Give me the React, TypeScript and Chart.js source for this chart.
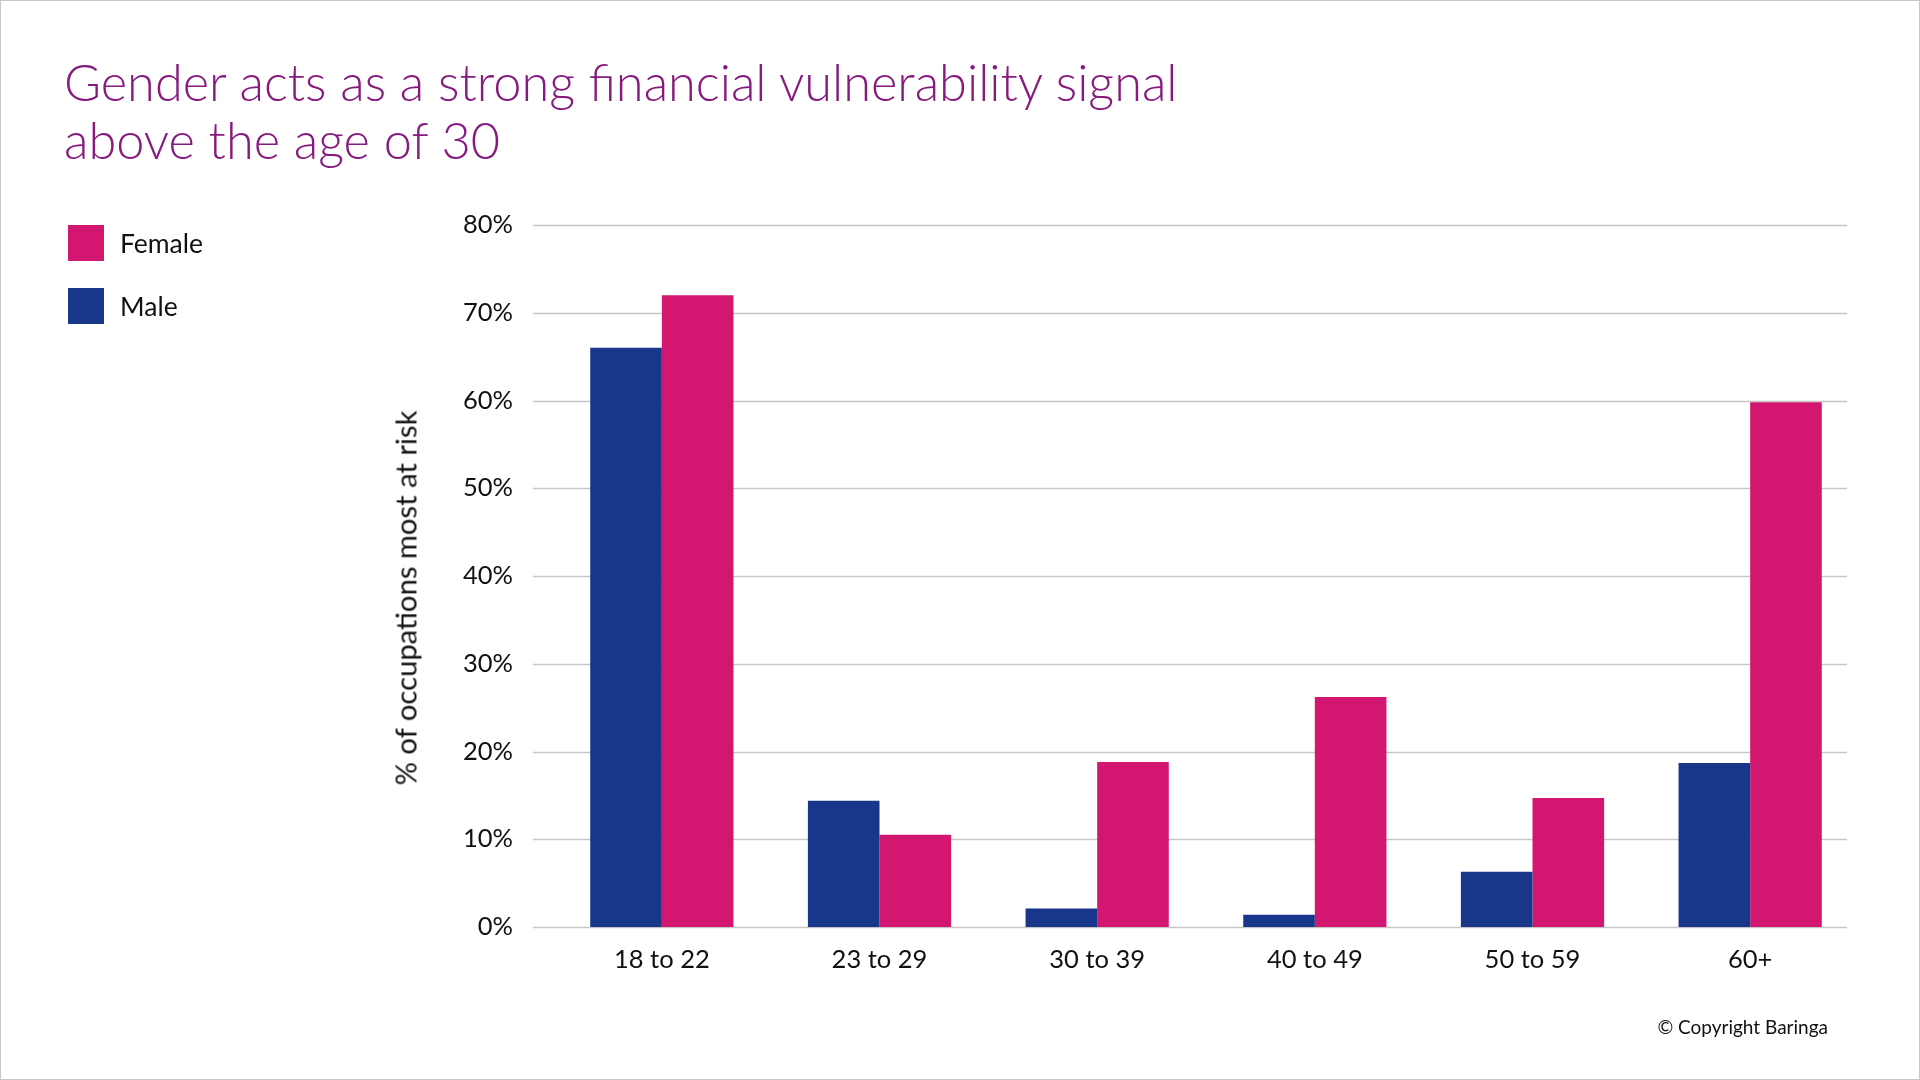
import React, { useEffect, useRef } from "react";
import { Chart, registerables } from "chart.js";

Chart.register(...registerables);

const categories = ["18 to 22", "23 to 29", "30 to 39", "40 to 49", "50 to 59", "60+"];
const maleValues = [66.0, 14.4, 2.1, 1.4, 6.3, 18.7];
const femaleValues = [72.0, 10.5, 18.8, 26.2, 14.7, 59.8];
const yTicks = [0, 10, 20, 30, 40, 50, 60, 70, 80];

const TITLE_LINES = ["Gender acts as a strong financial vulnerability signal", "above the age of 30"];
const Y_TITLE = "% of occupations most at risk";
const FEMALE_COLOR = "#D31670";
const MALE_COLOR = "#19378A";
const TITLE_COLOR = "#861A7E";
const GRID_COLOR = "#C6C6C6";
const FONT = "Lato, 'Open Sans', sans-serif";

// gridlines span a slightly different horizontal range than the category band
const GRID_LEFT = 533;
const GRID_RIGHT = 1847;

const gridPlugin = {
  id: "customGrid",
  beforeDatasetsDraw(chart: any) {
    const y = chart.scales.y;
    const ctx = chart.ctx;
    ctx.save();
    ctx.strokeStyle = GRID_COLOR;
    ctx.lineWidth = 1.3;
    y.ticks.forEach((t: any) => {
      const py = Math.round(y.getPixelForValue(t.value)) + 0.5;
      ctx.beginPath();
      ctx.moveTo(GRID_LEFT, py);
      ctx.lineTo(GRID_RIGHT, py);
      ctx.stroke();
    });
    ctx.restore();
  },
};

export default function App() {
  const canvasRef = useRef<HTMLCanvasElement | null>(null);

  useEffect(() => {
    if (!canvasRef.current) return;
    const chart = new Chart(canvasRef.current, {
      type: "bar",
      data: {
        labels: categories,
        datasets: [
          {
            label: "Male",
            data: maleValues,
            backgroundColor: MALE_COLOR,
            borderWidth: 0,
            categoryPercentage: 0.658,
            barPercentage: 1.0,
          },
          {
            label: "Female",
            data: femaleValues,
            backgroundColor: FEMALE_COLOR,
            borderWidth: 0,
            categoryPercentage: 0.658,
            barPercentage: 1.0,
          },
        ],
      },
      plugins: [gridPlugin],
      options: {
        responsive: false,
        animation: false,
        devicePixelRatio: 1,
        layout: { padding: { left: 400, right: 61, top: 225, bottom: 93 } },
        plugins: {
          legend: { display: false },
          title: { display: false },
          tooltip: { enabled: false },
        },
        scales: {
          x: {
            grid: { display: false },
            border: { display: false },
            ticks: {
              color: "#111111",
              font: { family: FONT, size: 25.5 },
              padding: 9,
            },
            afterFit: (scale: any) => {
              scale.height = 60;
            },
          },
          y: {
            min: 0,
            max: 80,
            afterBuildTicks: (scale: any) => {
              scale.ticks = yTicks.map((v) => ({ value: v }));
            },
            grid: { display: false },
            border: { display: false },
            ticks: {
              color: "#111111",
              font: { family: FONT, size: 25.5 },
              padding: 32,
              callback: (v: any) => `${v}%`,
            },
            afterFit: (scale: any) => {
              scale.width = 153;
            },
          },
        },
      },
    });
    return () => chart.destroy();
  }, []);

  return (
    <div
      style={{
        position: "absolute",
        left: 0,
        top: 0,
        width: 1920,
        height: 1080,
        boxSizing: "border-box",
        border: "1px solid #c8c8c8",
        background: "#ffffff",
        overflow: "hidden",
        fontFamily: FONT,
      }}
    >
      <canvas
        ref={canvasRef}
        width={1920}
        height={1080}
        style={{ position: "absolute", left: -1, top: -1, width: 1920, height: 1080 }}
      />
      <div
        style={{
          position: "absolute",
          left: 63,
          top: 52,
          color: TITLE_COLOR,
          fontSize: 50.5,
          fontWeight: 300,
          lineHeight: "58px",
          whiteSpace: "nowrap",
        }}
      >
        {TITLE_LINES.map((l) => (
          <div key={l}>{l}</div>
        ))}
      </div>
      {[
        { label: "Female", color: FEMALE_COLOR, top: 224 },
        { label: "Male", color: MALE_COLOR, top: 287 },
      ].map((item) => (
        <div key={item.label} style={{ position: "absolute", left: 67, top: item.top, display: "flex", alignItems: "center" }}>
          <div style={{ width: 36, height: 36, background: item.color }} />
          <div style={{ marginLeft: 16, fontSize: 26.5, color: "#111111", lineHeight: "36px" }}>{item.label}</div>
        </div>
      ))}
      <div
        style={{
          position: "absolute",
          left: 404,
          top: 597,
          transform: "translate(-50%, -50%) rotate(-90deg)",
          fontSize: 29.2,
          fontWeight: 400,
          color: "#111111",
          whiteSpace: "nowrap",
        }}
      >
        {Y_TITLE}
      </div>
      <div
        style={{
          position: "absolute",
          right: 91,
          top: 1014,
          fontSize: 19,
          color: "#111111",
          whiteSpace: "nowrap",
        }}
      >
        © Copyright Baringa
      </div>
    </div>
  );
}
